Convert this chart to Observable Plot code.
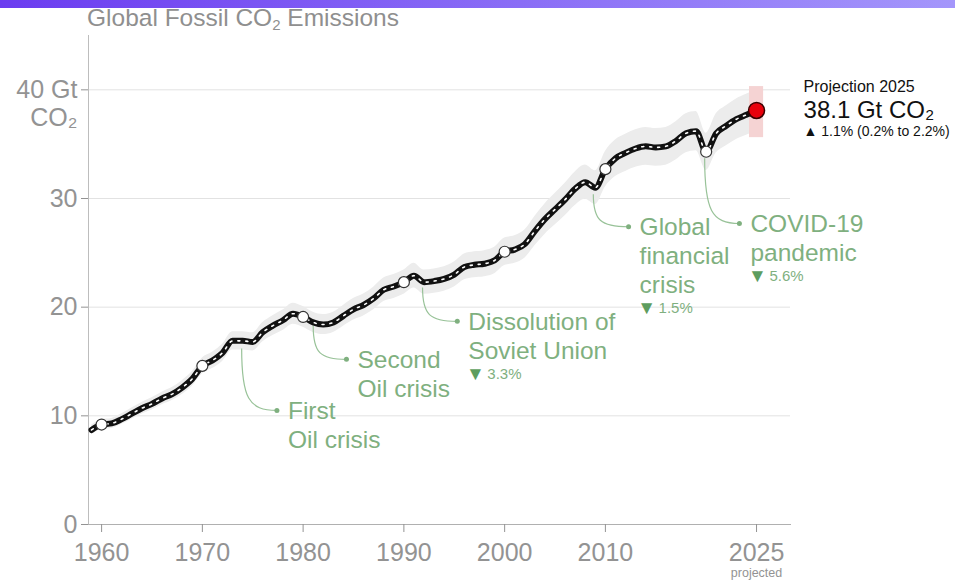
<!DOCTYPE html>
<html><head><meta charset="utf-8">
<script src="https://cdn.jsdelivr.net/npm/d3@7"></script>
<script src="https://cdn.jsdelivr.net/npm/@observablehq/plot@0.6"></script>
<style>
html,body{margin:0;padding:0;background:#fff;overflow:hidden;}
#wrap{position:relative;width:955px;height:582px;font-family:"Liberation Sans",Arial,sans-serif;}
#chart{position:absolute;left:0;top:0;}
#bar{position:absolute;left:0;top:0;width:955px;height:8px;background:linear-gradient(90deg,#6b3cf0,#a496fb);}
#title{position:absolute;left:87px;top:4px;font-size:24.5px;color:#8f8f8f;line-height:28px;white-space:nowrap;}
#title sub{font-size:15px;vertical-align:-4px;line-height:0;}
</style></head>
<body><div id="wrap"><div id="chart"></div><div id="bar"></div><div id="title">Global Fossil CO<sub>2</sub> Emissions</div></div>
<script>
// ---- data ----
const years = [1959,1960,1961,1962,1963,1964,1965,1966,1967,1968,1969,
  1970,1971,1972,1973,1974,1975,1976,1977,1978,1979,
  1980,1981,1982,1983,1984,1985,1986,1987,1988,1989,
  1990,1991,1992,1993,1994,1995,1996,1997,1998,1999,
  2000,2001,2002,2003,2004,2005,2006,2007,2008,2009,
  2010,2011,2012,2013,2014,2015,2016,2017,2018,2019,
  2020,2021,2022,2023,2024,2025];
const emissions = [8.7,9.2,9.3,9.7,10.2,10.7,11.1,11.6,12.0,12.6,13.4,
  14.6,15.1,15.8,16.9,16.9,16.8,17.7,18.3,18.8,19.4,
  19.1,18.6,18.4,18.6,19.2,19.8,20.2,20.8,21.6,21.9,
  22.3,22.9,22.3,22.4,22.6,23.0,23.7,23.9,24.0,24.3,
  25.1,25.3,25.8,27.0,28.1,29.0,29.9,30.9,31.5,31.0,
  32.7,33.7,34.2,34.6,34.8,34.7,34.8,35.3,36.0,36.2,
  34.3,36.0,36.7,37.3,37.7,38.1];
const relUncertainty = 0.05;             // ± share shown as grey band
const decadeMarkers = [1960,1970,1980,1990,2000,2010,2020];
const xTicks = [1960,1970,1980,1990,2000,2010,2025];
const yTicks = [0,10,20,30,40];
const gridTicks = [10,20,30,40];
const projYear = 2025;
const projValue = 38.1;
const projRange = [35.6, 40.3];
const projTitle = "Projection 2025";
const projLabel = "38.1 Gt CO\u2082";
const projChange = "\u25B2 1.1% (0.2% to 2.2%)";
const eventLabels = [["First","Oil crisis"],["Second","Oil crisis"],["Dissolution of","Soviet Union"],["Global","financial","crisis"],["COVID-19","pandemic"]];
const eventDrops = [null,null,"3.3%","1.5%","5.6%"];
const eventFrom = [[1973.9,16.2],[1981.0,18.3],[1991.85,21.8],[2008.8,30.4],[2019.85,33.7]];
const eventTo = [[1977.4,10.5],[1984.3,15.2],[1995.3,18.7],[2012.3,27.4],[2023.3,27.7]];

// ---- tables ----
const series = years.map((year, i) => ({year, value: emissions[i]}));
const events = eventLabels.map((lines, i) => ({
  text: lines.join("\n"), lines: lines.length, drop: eventDrops[i],
  x1: eventFrom[i][0], y1: eventFrom[i][1], x2: eventTo[i][0], y2: eventTo[i][1]
}));
const markers = series.filter(d => decadeMarkers.includes(d.year));
const proj = [{year: projYear, value: projValue, lo: projRange[0], hi: projRange[1]}];

const green = "#7fb07f";
const greenDark = "#5e9d5e";
const axisGray = "#939393";

function elbow(context) {
  let pts = [];
  return {
    areaStart() {}, areaEnd() {},
    lineStart() { pts = []; },
    point(x, y) { pts.push([+x, +y]); },
    lineEnd() {
      if (pts.length < 2) return;
      const [[x0, y0], [x1, y1]] = pts;
      context.moveTo(x0, y0);
      context.bezierCurveTo(x0, y0 + (y1 - y0) * 0.8, x0 + (x1 - x0) * 0.2, y1, x1, y1);
    }
  };
}

const dropMarks = events.filter(e => e.drop).flatMap(e => [
  Plot.text([e], {x: "x2", y: "y2", text: () => "\u25BC", dx: 18, dy: 24 + (e.lines - 1) * 28.8, fontSize: 19, fill: greenDark, textAnchor: "middle"}),
  Plot.text([e], {x: "x2", y: "y2", text: "drop", dx: 30, dy: 24 + (e.lines - 1) * 28.8, fontSize: 15, fill: green, textAnchor: "start"})
]);

const chart = Plot.plot({
  width: 955, height: 582,
  marginLeft: 88, marginRight: 165, marginTop: 35, marginBottom: 58,
  style: {fontFamily: "'Liberation Sans', Arial, sans-serif", background: "transparent", overflow: "visible"},
  x: {domain: [1958.7, 2028.37]},
  y: {domain: [0, 45]},
  marks: [
    Plot.gridY({ticks: gridTicks, stroke: "#e2e2e2", strokeOpacity: 1}),
    Plot.frame({anchor: "left", stroke: "#bdbdbd"}),
    Plot.frame({anchor: "bottom", stroke: "#b0b0b0"}),
    Plot.axisY({ticks: yTicks, tickSize: 7, tickPadding: 4, fontSize: 25, color: axisGray, label: null,
      tickFormat: d => d === 40 ? "40 Gt" : String(d)}),
    Plot.text([40], {y: d => d, frameAnchor: "left", dx: -11, dy: 28, text: () => "CO\u2082", textAnchor: "end", fontSize: 25, fill: axisGray}),
    Plot.axisX({ticks: xTicks, tickSize: 8, tickPadding: 11, fontSize: 25, color: axisGray, label: null,
      tickFormat: d => String(d)}),
    Plot.text([projYear], {x: d => d, frameAnchor: "bottom", dy: 52, text: () => "projected", fontSize: 12.5, fill: axisGray}),
    Plot.areaY(series, {x: "year", y1: d => d.value * (1 - relUncertainty), y2: d => d.value * (1 + relUncertainty), fill: "#ececec", curve: "monotone-x"}),
    Plot.rect(proj, {x1: d => d.year - 0.7, x2: d => d.year + 0.7, y1: "lo", y2: "hi", fill: "#f5d3d3"}),
    Plot.link(events, {x1: "x1", y1: "y1", x2: "x2", y2: "y2", curve: elbow, stroke: "#98c298", strokeWidth: 1.2}),
    Plot.dot(events, {x: "x2", y: "y2", r: 2.5, fill: green}),
    Plot.text(events, {x: "x2", y: "y2", text: "text", dx: 11, dy: -12, lineAnchor: "top", textAnchor: "start", fontSize: 24.5, lineHeight: 1.18, fill: green}),
    ...dropMarks,
    Plot.line(series, {x: "year", y: "value", stroke: "#111", strokeWidth: 6, curve: "monotone-x", strokeLinejoin: "round"}),
    Plot.line(series, {x: "year", y: "value", stroke: "#fff", strokeWidth: 1.6, strokeDasharray: "2,6", curve: "monotone-x"}),
    Plot.dot(markers, {x: "year", y: "value", r: 5.5, fill: "#fff", stroke: "#333", strokeWidth: 1.2}),
    Plot.dot(proj, {x: "year", y: "value", r: 8, fill: "#e8000b", stroke: "#3a0000", strokeWidth: 1.5}),
    Plot.text(proj, {x: "year", y: "value", text: () => projTitle, dx: 47, dy: -24, textAnchor: "start", fontSize: 16, fill: "#111"}),
    Plot.text(proj, {x: "year", y: "value", text: () => projLabel, dx: 47, dy: 0, textAnchor: "start", fontSize: 24, fill: "#111"}),
    Plot.text(proj, {x: "year", y: "value", text: () => projChange, dx: 47, dy: 21, textAnchor: "start", fontSize: 14, fill: "#111"})
  ]
});
document.getElementById("chart").appendChild(chart);
</script>
</body></html>
